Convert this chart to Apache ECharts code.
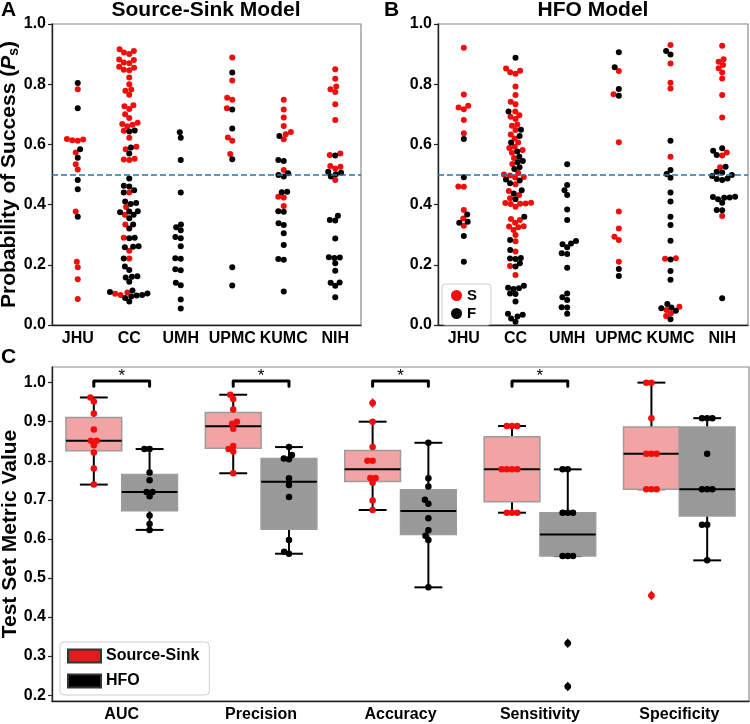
<!DOCTYPE html>
<html><head><meta charset="utf-8">
<script src="https://cdn.jsdelivr.net/npm/echarts@6/dist/echarts.min.js"></script>
<style>html,body{margin:0;padding:0;background:#fff}#c{width:750px;height:724px}</style>
</head><body><div id="c"></div>
<script>
const sites = ['JHU','CC','UMH','UPMC','KUMC','NIH'];

// Panel A: Source-Sink model. S = success (red), F = failure (black)
const A_JHU_S  = [0.783,0.618,0.616,0.614,0.612,0.573,0.534,0.517,0.377,0.210,0.192,0.152,0.086];
const A_JHU_F  = [0.804,0.720,0.584,0.556,0.482,0.451,0.360];
const A_CC_S   = [0.916,0.910,0.905,0.900,0.882,0.880,0.872,0.870,0.858,0.855,0.848,0.846,0.822,0.800,0.782,0.778,0.765,0.730,0.727,0.718,0.700,0.688,0.672,0.668,0.665,0.660,0.645,0.622,0.592,0.584,0.552,0.550,0.548,0.440,0.392,0.366,0.334,0.290,0.247,0.221,0.108,0.104,0.100];
const A_CC_F   = [0.646,0.643,0.590,0.570,0.487,0.463,0.460,0.448,0.440,0.410,0.405,0.402,0.378,0.377,0.375,0.366,0.355,0.334,0.321,0.290,0.288,0.262,0.260,0.258,0.221,0.194,0.183,0.162,0.160,0.158,0.144,0.115,0.110,0.105,0.100,0.098,0.095,0.090,0.078];
const A_UMH_S  = [];
const A_UMH_F  = [0.640,0.622,0.548,0.440,0.334,0.325,0.315,0.292,0.288,0.262,0.222,0.220,0.185,0.182,0.140,0.132,0.085,0.055];
const A_UPMC_S = [0.889,0.812,0.755,0.748,0.720,0.623,0.612,0.568];
const A_UPMC_F = [0.839,0.716,0.653,0.551,0.192,0.131];
const A_KUMC_S = [0.748,0.716,0.689,0.661,0.641,0.634,0.617,0.515,0.426,0.424,0.395];
const A_KUMC_F = [0.628,0.548,0.545,0.504,0.498,0.493,0.443,0.441,0.378,0.376,0.338,0.332,0.305,0.266,0.219,0.217,0.111];
const A_NIH_S  = [0.850,0.818,0.792,0.783,0.774,0.733,0.681,0.570,0.565,0.528,0.526,0.520,0.482];
const A_NIH_F  = [0.563,0.509,0.506,0.501,0.493,0.363,0.349,0.347,0.287,0.225,0.224,0.223,0.205,0.180,0.141,0.140,0.130,0.092];

// Panel B: HFO model
const B_JHU_S  = [0.921,0.766,0.728,0.723,0.717,0.681,0.637,0.460,0.459,0.382,0.354,0.330];
const B_JHU_F  = [0.618,0.491,0.367,0.343,0.340,0.296,0.210];
const B_CC_S   = [0.852,0.845,0.840,0.835,0.792,0.764,0.742,0.733,0.709,0.697,0.692,0.684,0.666,0.662,0.648,0.633,0.620,0.606,0.592,0.588,0.581,0.572,0.555,0.535,0.505,0.500,0.497,0.492,0.490,0.468,0.445,0.432,0.421,0.406,0.405,0.404,0.403,0.402,0.393,0.352,0.349,0.340,0.328,0.327,0.325,0.316,0.299,0.278,0.244,0.196,0.166];
const B_CC_F   = [0.888,0.709,0.649,0.628,0.606,0.576,0.559,0.545,0.541,0.524,0.518,0.483,0.480,0.471,0.448,0.437,0.418,0.360,0.282,0.249,0.223,0.221,0.219,0.205,0.194,0.130,0.124,0.122,0.120,0.105,0.103,0.078,0.037,0.034,0.028,0.022,0.011];
const B_UMH_S  = [];
const B_UMH_F  = [0.534,0.465,0.448,0.432,0.384,0.349,0.279,0.271,0.268,0.258,0.238,0.236,0.190,0.105,0.092,0.083,0.059,0.058,0.037];
const B_UPMC_S = [0.844,0.767,0.607,0.377,0.321,0.293,0.282,0.210];
const B_UPMC_F = [0.906,0.856,0.784,0.762,0.186,0.163];
const B_KUMC_S = [0.930,0.869,0.805,0.786,0.559,0.222,0.220,0.061,0.050,0.039,0.030];
const B_KUMC_F = [0.910,0.899,0.612,0.515,0.502,0.489,0.440,0.410,0.360,0.332,0.280,0.218,0.179,0.150,0.070,0.058,0.056,0.047,0.019];
const B_NIH_S  = [0.928,0.883,0.875,0.864,0.853,0.839,0.819,0.764,0.689,0.573,0.563,0.524,0.362];
const B_NIH_F  = [0.587,0.579,0.565,0.526,0.509,0.507,0.498,0.495,0.487,0.485,0.482,0.426,0.425,0.424,0.423,0.418,0.406,0.382,0.381,0.089];

// Panel C: test-set metrics (10 folds)
const metrics = ['AUC','Precision','Accuracy','Sensitivity','Specificity'];
const ssAUC          = [0.962,0.952,0.921,0.880,0.851,0.851,0.840,0.821,0.780,0.739];
const hfoAUC         = [0.830,0.830,0.770,0.750,0.720,0.720,0.709,0.660,0.638,0.623];
const ssPrecision    = [0.969,0.958,0.931,0.900,0.895,0.882,0.838,0.830,0.824,0.768];
const hfoPrecision   = [0.835,0.815,0.806,0.804,0.755,0.738,0.707,0.597,0.567,0.562];
const ssAccuracy     = [0.948,0.900,0.835,0.800,0.800,0.756,0.756,0.744,0.698,0.674];
const hfoAccuracy    = [0.846,0.755,0.734,0.700,0.690,0.653,0.622,0.608,0.597,0.476];
const ssSensitivity  = [0.889,0.889,0.889,0.778,0.778,0.778,0.778,0.667,0.667,0.667];
const hfoSensitivity = [0.778,0.778,0.667,0.667,0.667,0.556,0.556,0.556,0.333,0.222];
const ssSpecificity  = [1.000,1.000,0.909,0.818,0.818,0.818,0.727,0.727,0.727,0.455];
const hfoSpecificity = [0.909,0.909,0.909,0.818,0.727,0.727,0.727,0.636,0.636,0.545];
const significance   = ['*','*','*','*',''];
const ticksAB = [0,0.2,0.4,0.6,0.8,1.0];
const ticksC  = [0.2,0.3,0.4,0.5,0.6,0.7,0.8,0.9,1.0];

const A_S = [A_JHU_S,A_CC_S,A_UMH_S,A_UPMC_S,A_KUMC_S,A_NIH_S];
const A_F = [A_JHU_F,A_CC_F,A_UMH_F,A_UPMC_F,A_KUMC_F,A_NIH_F];
const B_S = [B_JHU_S,B_CC_S,B_UMH_S,B_UPMC_S,B_KUMC_S,B_NIH_S];
const B_F = [B_JHU_F,B_CC_F,B_UMH_F,B_UPMC_F,B_KUMC_F,B_NIH_F];
const SS  = [ssAUC,ssPrecision,ssAccuracy,ssSensitivity,ssSpecificity];
const HFO = [hfoAUC,hfoPrecision,hfoAccuracy,hfoSensitivity,hfoSpecificity];

const FONT = '"Liberation Sans", Arial, sans-serif';
const RED = '#f20d0d', BLACK = '#000';
const AXC = '#222', BORDER = '#8a8a8a';

const chart = echarts.init(document.getElementById('c'), null, {renderer:'canvas'});

function xAx(grid, data){
  return {gridIndex:grid, type:'category', data:data, boundaryGap:true,
    axisLine:{lineStyle:{color:AXC,width:1.4}},
    axisTick:{alignWithLabel:true,length:4,lineStyle:{color:AXC,width:1.2}},
    axisLabel:{interval:0,margin:6,fontSize:16,fontWeight:'bold',color:'#000',fontFamily:FONT,hideOverlap:false},
    splitLine:{show:false}};
}
function yAx(grid, min, max, ticks, name){
  const o = {gridIndex:grid, type:'value', min:min, max:max,
    splitLine:{show:false},
    axisLine:{show:true,lineStyle:{color:AXC,width:1.4}},
    axisTick:{show:true,length:4,lineStyle:{color:AXC,width:1.2},customValues:ticks},
    axisLabel:{margin:6,fontSize:16,fontWeight:'bold',color:'#000',fontFamily:FONT,
      customValues:ticks, formatter:v=>(+v).toFixed(1)}};
  if(name){
    o.name = name; o.nameLocation='middle'; o.nameGap=31; o.nameMoveOverlap=false;
    o.nameTextStyle = {fontSize:21,fontWeight:'bold',color:'#000',fontFamily:FONT,
      rich:{n:{fontSize:21,fontWeight:'bold',fontFamily:FONT,color:'#000'},
            i:{fontSize:21,fontWeight:'bold',fontStyle:'italic',fontFamily:FONT,color:'#000'},
            s:{fontSize:14,fontWeight:'bold',fontFamily:FONT,color:'#000',verticalAlign:'bottom',padding:[9,0,0,0]}}};
  }
  return o;
}
const gridBase = {show:true,borderColor:BORDER,borderWidth:1.2,containLabel:false,outerBoundsMode:'none'};
const titleStyle = {fontSize:21,fontWeight:'bold',color:'#000',fontFamily:FONT};

const base = {
  animation:false,
  backgroundColor:'#fff',
  textStyle:{fontFamily:FONT},
  title:[
    {text:'A',left:1,top:0,padding:0,textStyle:titleStyle},
    {text:'Source-Sink Model',left:206,top:0,padding:0,textAlign:'center',textStyle:titleStyle},
    {text:'B',left:384,top:0,padding:0,textStyle:titleStyle},
    {text:'HFO Model',left:593,top:0,padding:0,textAlign:'center',textStyle:titleStyle},
    {text:'C',left:1,top:347,padding:0,textStyle:titleStyle}
  ],
  grid:[
    Object.assign({left:52,top:24,width:309,height:301},gridBase),
    Object.assign({left:438,top:24,width:310,height:301},gridBase),
    Object.assign({left:52,top:367,width:697,height:334},gridBase)
  ],
  xAxis:[xAx(0,sites),xAx(1,sites),xAx(2,metrics)],
  yAxis:[
    yAx(0,0,1,ticksAB,'{n|Probability of Success (}{i|P}{s|s}{n|)}'),
    yAx(1,0,1,ticksAB,null),
    yAx(2,0.185,1.04,ticksC,'Test Set Metric Value')
  ],
  legend:[
    {data:['S','F'],orient:'vertical',left:442,top:284,icon:'circle',itemWidth:11,itemHeight:11,itemGap:3,
     padding:[4,14,4,9],borderColor:'#cfcfcf',borderWidth:1,borderRadius:3,backgroundColor:'#fff',
     textStyle:{fontSize:15,fontWeight:'bold',color:'#000',fontFamily:FONT},selectedMode:false},
    {data:['Source-Sink','HFO'],orient:'vertical',left:60,top:642,icon:'rect',itemWidth:33,itemHeight:13,itemGap:9,
     padding:[6,10,6,7],borderColor:'#cfcfcf',borderWidth:1,borderRadius:4,backgroundColor:'#fff',
     textStyle:{fontSize:16,fontWeight:'bold',color:'#000',fontFamily:FONT},selectedMode:false}
  ],
  series:[]
};
chart.setOption(base);

function swarmOffsets(vals, ys, d){
  const order = vals.map((v,i)=>i).sort((a,b)=>vals[a]-vals[b]);
  const placed=[]; const off=new Array(vals.length).fill(0);
  for(const i of order){
    const y=ys[i];
    const near=placed.filter(p=>Math.abs(p.y-y)<d);
    const cands=[0];
    for(const p of near){const dx=Math.sqrt(d*d-(p.y-y)*(p.y-y)); cands.push(p.x-dx,p.x+dx);}
    const sorted=cands.map((x,k)=>({x,k})).sort((a,b)=>(Math.abs(a.x)-Math.abs(b.x))||(a.k-b.k));
    let x=0;
    for(const c of sorted){ if(near.every(p=>(p.x-c.x)*(p.x-c.x)+(p.y-y)*(p.y-y)>=d*d*0.999)){x=c.x;break;} }
    placed.push({x,y}); off[i]=x;
  }
  return off;
}

function panelSwarm(yIdx, sArr, fArr, d){
  const outS=[], outF=[];
  for(let i=0;i<sites.length;i++){
    const pts=sArr[i].map(v=>({v,c:'S'})).concat(fArr[i].map(v=>({v,c:'F'})));
    const vals=pts.map(p=>p.v);
    const ys=vals.map(v=>chart.convertToPixel({yAxisIndex:yIdx},v));
    const off=swarmOffsets(vals,ys,d);
    pts.forEach((p,j)=>{
      const item={value:[i,p.v],symbolOffset:[off[j],0]};
      (p.c==='S'?outS:outF).push(item);
    });
  }
  return {S:outS,F:outF};
}

function quantile(sorted,p){
  const h=(sorted.length-1)*p, lo=Math.floor(h), hi=Math.ceil(h);
  return sorted[lo]+(h-lo)*(sorted[hi]-sorted[lo]);
}
function boxStats(arr){
  const s=arr.slice().sort((a,b)=>a-b);
  const q1=quantile(s,0.25), med=quantile(s,0.5), q3=quantile(s,0.75), iqr=q3-q1;
  const loF=q1-1.5*iqr, hiF=q3+1.5*iqr;
  const inside=s.filter(v=>v>=loF&&v<=hiF);
  return {lo:inside[0],q1,med,q3,hi:inside[inside.length-1],fliers:s.filter(v=>v<loF||v>hiF)};
}

const band = chart.convertToPixel({xAxisIndex:2},1)-chart.convertToPixel({xAxisIndex:2},0);
const dodge = 0.2*band;

function metricSwarm(groups, side, d){
  const out=[];
  groups.forEach((arr,i)=>{
    const ys=arr.map(v=>chart.convertToPixel({yAxisIndex:2},v));
    const off=swarmOffsets(arr,ys,d);
    arr.forEach((v,j)=>out.push({value:[i,v],symbolOffset:[side*dodge+off[j],0]}));
  });
  return out;
}

function boxRender(side, fill){
  return function(params, api){
    const i=api.value(0);
    const bw=api.size([1,0])[0];
    const c=api.coord([i,0.5])[0];
    const w=bw*0.4;
    const x0= side<0 ? c-w : c;
    const xm=x0+w/2;
    const y=k=>api.coord([i,api.value(k)])[1];
    const ylo=y(1), yq1=y(2), ymed=y(3), yq3=y(4), yhi=y(5);
    const cap=w/4;
    const ls={stroke:'#000',lineWidth:2};
    return {type:'group',children:[
      {type:'line',shape:{x1:xm,y1:yq3,x2:xm,y2:yhi},style:ls},
      {type:'line',shape:{x1:xm,y1:yq1,x2:xm,y2:ylo},style:ls},
      {type:'line',shape:{x1:xm-cap,y1:yhi,x2:xm+cap,y2:yhi},style:ls},
      {type:'line',shape:{x1:xm-cap,y1:ylo,x2:xm+cap,y2:ylo},style:ls},
      {type:'rect',shape:{x:x0,y:yq3,width:w,height:yq1-yq3},style:{fill:fill,stroke:'#9c9c9c',lineWidth:1.5}},
      {type:'line',shape:{x1:x0,y1:ymed,x2:x0+w,y2:ymed},style:ls}
    ]};
  };
}

function bracketRender(params, api){
  const i=api.value(0);
  const bw=api.size([1,0])[0];
  const c=api.coord([i,1.0])[0];
  const x0=c-0.2*bw, x1=c+0.2*bw;
  const yTop=api.coord([i,1.004])[1], yLeg=api.coord([i,0.991])[1], yStar=api.coord([i,1.017])[1];
  return {type:'group',children:[
    {type:'polyline',shape:{points:[[x0,yLeg],[x0,yTop],[x1,yTop],[x1,yLeg]]},style:{stroke:'#000',lineWidth:3,fill:null,lineJoin:'round',lineCap:'round'}},
    {type:'text',style:{text:significance[i],x:c,y:yStar,align:'center',verticalAlign:'middle',fontSize:17,fontFamily:FONT,fill:'#000'}}
  ]};
}

const swA=panelSwarm(0,A_S,A_F,5.5);
const swB=panelSwarm(1,B_S,B_F,5.5);
const statsSS=SS.map(boxStats), statsHFO=HFO.map(boxStats);

const dashLine={silent:true,symbol:'none',label:{show:false},lineStyle:{color:'#1f77b4',type:[6,3],width:1.6},data:[{yAxis:0.5}]};

function dots(name,xi,yi,data,color,size,extra){
  return Object.assign({type:'scatter',name:name,xAxisIndex:xi,yAxisIndex:yi,symbol:'circle',symbolSize:size,
    itemStyle:{color:color,opacity:1},data:data,z:4,silent:true},extra||{});
}

const series=[
  dots('S',0,0,swA.S,RED,6),
  dots('F',0,0,swA.F,BLACK,6,{markLine:dashLine}),
  dots('S',1,1,swB.S,RED,6),
  dots('F',1,1,swB.F,BLACK,6,{markLine:dashLine}),
  {type:'custom',name:'Source-Sink',xAxisIndex:2,yAxisIndex:2,renderItem:boxRender(-1,'#f2a4a4'),
   itemStyle:{color:'#e3191c',borderColor:'#333',borderWidth:1},
   data:statsSS.map((s,i)=>[i,s.lo,s.q1,s.med,s.q3,s.hi]),encode:{x:0,y:[1,2,3,4,5]},z:2,silent:true},
  {type:'custom',name:'HFO',xAxisIndex:2,yAxisIndex:2,renderItem:boxRender(1,'#999999'),
   itemStyle:{color:'#000',borderColor:'#333',borderWidth:1},
   data:statsHFO.map((s,i)=>[i,s.lo,s.q1,s.med,s.q3,s.hi]),encode:{x:0,y:[1,2,3,4,5]},z:2,silent:true},
  dots('ssPts',2,2,metricSwarm(SS,-1,5.2),RED,6.5),
  dots('hfoPts',2,2,metricSwarm(HFO,1,5.2),BLACK,6.5),
  dots('ssFliers',2,2,statsSS.flatMap((s,i)=>s.fliers.map(v=>({value:[i,v],symbolOffset:[-dodge,0]}))),RED,[7,10],{symbol:'diamond',z:5}),
  dots('hfoFliers',2,2,statsHFO.flatMap((s,i)=>s.fliers.map(v=>({value:[i,v],symbolOffset:[dodge,0]}))),BLACK,[7,10],{symbol:'diamond',z:5}),
  {type:'custom',name:'sig',xAxisIndex:2,yAxisIndex:2,renderItem:bracketRender,
   data:significance.map((s,i)=>[i]).filter(d=>significance[d[0]]),encode:{x:0},z:6,silent:true}
];
chart.setOption({series:series});
</script></body></html>
